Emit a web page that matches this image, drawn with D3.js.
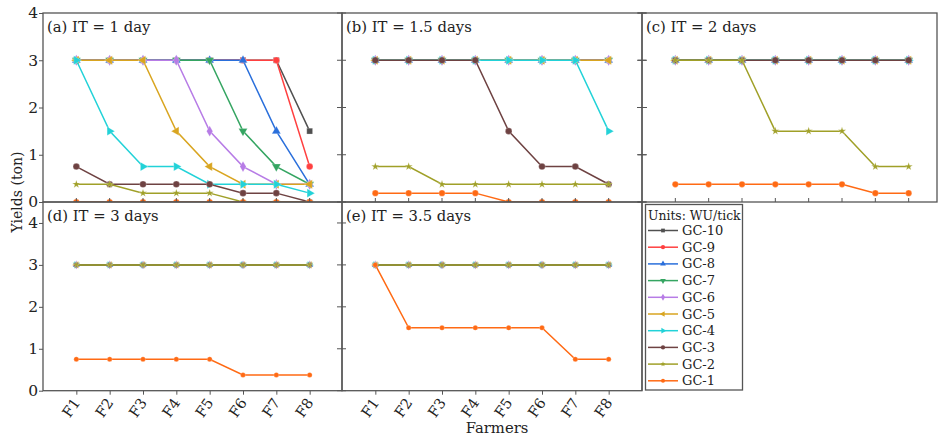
<!DOCTYPE html>
<html>
<head>
<meta charset="utf-8">
<script src="https://cdn.jsdelivr.net/npm/d3@7"></script>
<style>
  body { margin: 0; background: #fff; }
  svg { font-family: "DejaVu Serif", serif; }
</style>
</head>
<body>
<svg id="chart" width="938" height="437"></svg>
<script>
const farmers = ["F1", "F2", "F3", "F4", "F5", "F6", "F7", "F8"];
const seriesNames = ["GC-10", "GC-9", "GC-8", "GC-7", "GC-6", "GC-5", "GC-4", "GC-3", "GC-2", "GC-1"];
const seriesColors = ["#505050", "#ff4040", "#2a6fdb", "#35a562", "#b77ce6", "#d9a520", "#22d2d8", "#6e4242", "#a0a028", "#ff6a14"];
const yTicks = [0, 1, 2, 3, 4];

// yields (ton), one row per series in the order of seriesNames
const itOneDay = [
  [3, 3, 3, 3, 3, 3, 3, 1.5],
  [3, 3, 3, 3, 3, 3, 3, 0.75],
  [3, 3, 3, 3, 3, 3, 1.5, 0.375],
  [3, 3, 3, 3, 3, 1.5, 0.75, 0.375],
  [3, 3, 3, 3, 1.5, 0.75, 0.375, 0.375],
  [3, 3, 3, 1.5, 0.75, 0.375, 0.375, 0.375],
  [3, 1.5, 0.75, 0.75, 0.375, 0.375, 0.375, 0.1875],
  [0.75, 0.375, 0.375, 0.375, 0.375, 0.1875, 0.1875, 0],
  [0.375, 0.375, 0.1875, 0.1875, 0.1875, 0, 0, 0],
  [0, 0, 0, 0, 0, 0, 0, 0]
];
const itOneHalfDays = [
  [3, 3, 3, 3, 3, 3, 3, 3],
  [3, 3, 3, 3, 3, 3, 3, 3],
  [3, 3, 3, 3, 3, 3, 3, 3],
  [3, 3, 3, 3, 3, 3, 3, 3],
  [3, 3, 3, 3, 3, 3, 3, 3],
  [3, 3, 3, 3, 3, 3, 3, 3],
  [3, 3, 3, 3, 3, 3, 3, 1.5],
  [3, 3, 3, 3, 1.5, 0.75, 0.75, 0.375],
  [0.75, 0.75, 0.375, 0.375, 0.375, 0.375, 0.375, 0.375],
  [0.1875, 0.1875, 0.1875, 0.1875, 0, 0, 0, 0]
];
const itTwoDays = [
  [3, 3, 3, 3, 3, 3, 3, 3],
  [3, 3, 3, 3, 3, 3, 3, 3],
  [3, 3, 3, 3, 3, 3, 3, 3],
  [3, 3, 3, 3, 3, 3, 3, 3],
  [3, 3, 3, 3, 3, 3, 3, 3],
  [3, 3, 3, 3, 3, 3, 3, 3],
  [3, 3, 3, 3, 3, 3, 3, 3],
  [3, 3, 3, 3, 3, 3, 3, 3],
  [3, 3, 3, 1.5, 1.5, 1.5, 0.75, 0.75],
  [0.375, 0.375, 0.375, 0.375, 0.375, 0.375, 0.1875, 0.1875]
];
const itThreeDays = [
  [3, 3, 3, 3, 3, 3, 3, 3],
  [3, 3, 3, 3, 3, 3, 3, 3],
  [3, 3, 3, 3, 3, 3, 3, 3],
  [3, 3, 3, 3, 3, 3, 3, 3],
  [3, 3, 3, 3, 3, 3, 3, 3],
  [3, 3, 3, 3, 3, 3, 3, 3],
  [3, 3, 3, 3, 3, 3, 3, 3],
  [3, 3, 3, 3, 3, 3, 3, 3],
  [3, 3, 3, 3, 3, 3, 3, 3],
  [0.75, 0.75, 0.75, 0.75, 0.75, 0.375, 0.375, 0.375]
];
const itThreeHalfDays = [
  [3, 3, 3, 3, 3, 3, 3, 3],
  [3, 3, 3, 3, 3, 3, 3, 3],
  [3, 3, 3, 3, 3, 3, 3, 3],
  [3, 3, 3, 3, 3, 3, 3, 3],
  [3, 3, 3, 3, 3, 3, 3, 3],
  [3, 3, 3, 3, 3, 3, 3, 3],
  [3, 3, 3, 3, 3, 3, 3, 3],
  [3, 3, 3, 3, 3, 3, 3, 3],
  [3, 3, 3, 3, 3, 3, 3, 3],
  [3, 1.5, 1.5, 1.5, 1.5, 1.5, 0.75, 0.75]
];

const panels = [
  { label: "(a) IT = 1 day", data: itOneDay, col: 0, row: 0 },
  { label: "(b) IT = 1.5 days", data: itOneHalfDays, col: 1, row: 0 },
  { label: "(c) IT = 2 days", data: itTwoDays, col: 2, row: 0 },
  { label: "(d) IT = 3 days", data: itThreeDays, col: 0, row: 1 },
  { label: "(e) IT = 3.5 days", data: itThreeHalfDays, col: 1, row: 1 }
];

// marker shapes for each series: [symbol type, rotation, size factor]
const markers = [
  [d3.symbolSquare, 0, 1], [d3.symbolCircle, 0, 1], [d3.symbolTriangle, 0, 1],
  [d3.symbolTriangle, 180, 1], [d3.symbolDiamond, 0, 1], [d3.symbolTriangle, -90, 1],
  [d3.symbolTriangle, 90, 1], [d3.symbolCircle, 0, 1], [d3.symbolStar, 0, 0.6],
  [d3.symbolCircle, 0, 0.9]
];

const svg = d3.select("#chart");
const axisColor = "#555";

const colX = [43, 342, 642];
const colW = [299, 300, 295];
const rows = [
  { top: 13, bottom: 202, max: 4, msize: 34 },
  { top: 202, bottom: 390.7, max: 4.5, msize: 22 }
];

panels.forEach((p, i) => {
  const r = rows[p.row];
  const x0 = colX[p.col];
  const w = colW[p.col];
  const h = r.bottom - r.top;

  const x = d3.scalePoint().domain(farmers).range([0, 300]).padding(1);
  const y = d3.scaleLinear().domain([0, r.max]).range([h, 0]);

  const g = svg.append("g").attr("transform", `translate(${x0},${r.top})`);

  g.append("clipPath").attr("id", "clip" + i)
    .append("rect").attr("width", w).attr("height", h);

  const plot = g.append("g").attr("clip-path", `url(#clip${i})`);

  const line = d3.line()
    .x((d, j) => x(farmers[j]))
    .y(d => y(d));

  p.data.forEach((vals, s) => {
    plot.append("path")
      .datum(vals)
      .attr("fill", "none")
      .attr("stroke", seriesColors[s])
      .attr("stroke-width", 1.5)
      .attr("d", line);

    const sym = d3.symbol().type(markers[s][0]).size(r.msize * markers[s][2]);
    plot.selectAll(null)
      .data(vals)
      .join("path")
      .attr("d", sym)
      .attr("transform", (d, j) => `translate(${x(farmers[j])},${y(d)}) rotate(${markers[s][1]})`)
      .attr("fill", seriesColors[s])
      .attr("stroke", "#fff")
      .attr("stroke-opacity", 0.4)
      .attr("stroke-width", 0.6);
  });

  // frame
  g.append("rect")
    .attr("width", w).attr("height", h)
    .attr("fill", "none")
    .attr("stroke", axisColor)
    .attr("stroke-width", 1.3);

  // y ticks
  if (p.col === 0) {
    const yAxis = g.append("g")
      .call(d3.axisLeft(y).tickValues(yTicks).tickSize(4).tickSizeOuter(0).tickFormat(d3.format("d")));
    yAxis.select(".domain").remove();
    yAxis.selectAll("line").attr("stroke", axisColor);
    yAxis.selectAll("text")
      .attr("font-family", "DejaVu Serif")
      .attr("font-size", 15.5)
      .attr("fill", "#222")
      .attr("x", -5);
  } else {
    g.selectAll(null).data(yTicks).join("line")
      .attr("x1", -5).attr("x2", 4)
      .attr("y1", d => y(d)).attr("y2", d => y(d))
      .attr("stroke", axisColor);
  }
  if (p.col === 1 && p.row === 0) {
    g.selectAll(null).data(yTicks).join("line")
      .attr("x1", w - 4).attr("x2", w + 5)
      .attr("y1", d => y(d)).attr("y2", d => y(d))
      .attr("stroke", axisColor);
  }

  // x ticks
  if (p.row === 0) {
    g.selectAll(null).data(farmers).join("line")
      .attr("x1", d => x(d)).attr("x2", d => x(d))
      .attr("y1", h - 4).attr("y2", h)
      .attr("stroke", axisColor);
  } else {
    const xAxis = g.append("g")
      .attr("transform", `translate(0,${h})`)
      .call(d3.axisBottom(x).tickSize(4).tickSizeOuter(0));
    xAxis.select(".domain").remove();
    xAxis.selectAll("line").attr("stroke", axisColor);
    xAxis.selectAll("text")
      .attr("font-family", "DejaVu Serif")
      .attr("font-size", 14.5)
      .attr("fill", "#222")
      .attr("text-anchor", "end")
      .attr("dy", null)
      .attr("y", 0)
      .attr("transform", "translate(4,12) rotate(-55)");
  }

  g.append("text")
    .attr("x", 4).attr("y", 19)
    .attr("font-size", 14.8)
    .attr("fill", "#222")
    .text(p.label);
});

// legend panel
const lg = svg.append("g");
lg.append("line")
  .attr("x1", 642).attr("x2", 642).attr("y1", 202).attr("y2", 390.7)
  .attr("stroke", axisColor).attr("stroke-width", 1.3);
lg.append("rect")
  .attr("x", 645.5).attr("y", 204.5).attr("width", 97).attr("height", 185.5)
  .attr("fill", "#fff").attr("stroke", axisColor).attr("stroke-width", 1.3);
lg.append("text")
  .attr("x", 648).attr("y", 219.5)
  .attr("font-size", 12.4).attr("fill", "#222")
  .text("Units: WU/tick");
seriesNames.forEach((name, s) => {
  const cy = 230.5 + s * 16.7;
  lg.append("line")
    .attr("x1", 648).attr("x2", 678).attr("y1", cy).attr("y2", cy)
    .attr("stroke", seriesColors[s]).attr("stroke-width", 1.5);
  lg.append("path")
    .attr("d", d3.symbol().type(markers[s][0]).size(14 * markers[s][2]))
    .attr("transform", `translate(663,${cy}) rotate(${markers[s][1]})`)
    .attr("fill", seriesColors[s]);
  lg.append("text")
    .attr("x", 682).attr("y", cy + 4.5)
    .attr("font-size", 13).attr("fill", "#222")
    .text(name);
});

// axis titles
svg.append("text")
  .attr("transform", "translate(22,192) rotate(-90)")
  .attr("text-anchor", "middle")
  .attr("font-size", 14).attr("fill", "#222")
  .text("Yields (ton)");
svg.append("text")
  .attr("x", 497).attr("y", 433)
  .attr("text-anchor", "middle")
  .attr("font-size", 14.8).attr("fill", "#222")
  .text("Farmers");
</script>
</body>
</html>
